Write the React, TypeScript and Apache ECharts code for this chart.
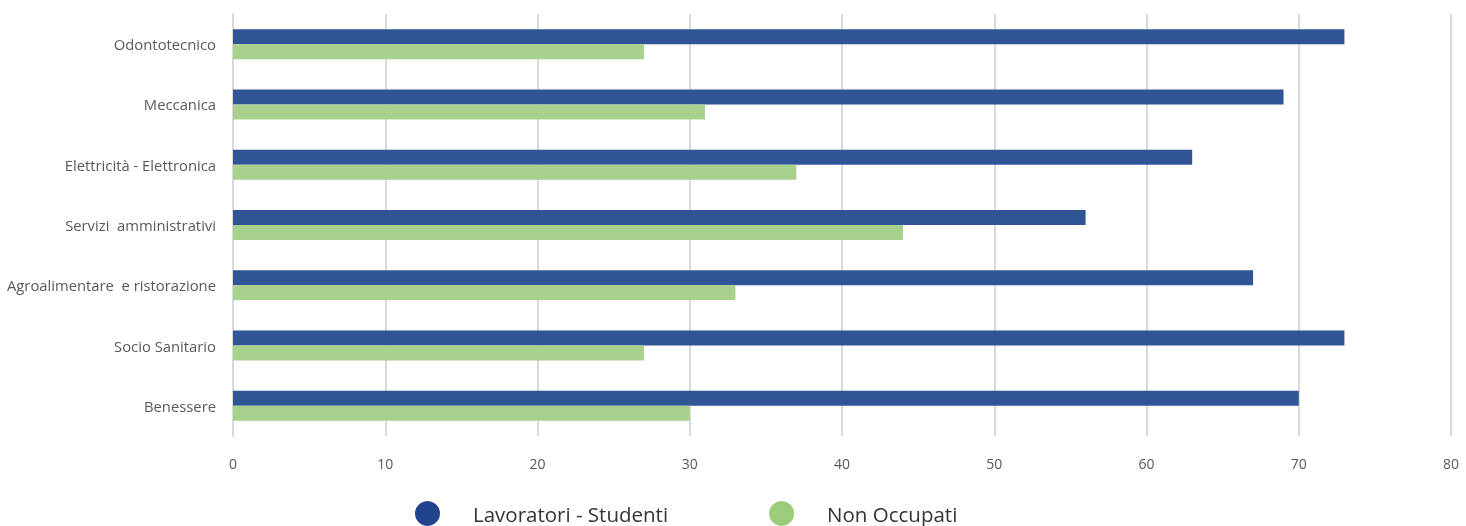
import React, { useEffect, useRef } from "react";
import * as echarts from "echarts";

const categories = [
  "Odontotecnico",
  "Meccanica",
  "Elettricità - Elettronica",
  "Servizi  amministrativi",
  "Agroalimentare  e ristorazione",
  "Socio Sanitario",
  "Benessere",
];
const lavoratoriStudenti = [73, 69, 63, 56, 67, 73, 70];
const nonOccupati = [27, 31, 37, 44, 33, 27, 30];
const seriesNames = ["Lavoratori - Studenti", "Non Occupati"];

export default function App() {
  const ref = useRef<HTMLDivElement>(null);
  useEffect(() => {
    if (!ref.current) return;
    const chart = echarts.init(ref.current, undefined, { renderer: "svg" });
    const font = "'Open Sans', 'Noto Sans', sans-serif";
    chart.setOption({
      animation: false,
      grid: { left: 233, right: 15, top: 14, bottom: 90, containLabel: false },
      legend: {
        left: 415,
        top: 501,
        padding: 0,
        itemWidth: 25,
        itemHeight: 25,
        itemGap: 101,
        icon: "circle",
        data: [
          { name: seriesNames[0], itemStyle: { color: "#1F448C" } },
          { name: seriesNames[1], itemStyle: { color: "#9BCB7B" } },
        ],
        textStyle: {
          fontFamily: font,
          fontSize: 20.5,
          lineHeight: 24,
          color: "#333333",
          padding: [0, 0, 0, 28],
        },
      },
      xAxis: {
        type: "value",
        min: 0,
        max: 80,
        interval: 10,
        axisLine: { show: false },
        axisTick: { show: false },
        splitLine: { show: true, lineStyle: { color: "#D9D9D9", width: 2 } },
        axisLabel: { color: "#595959", fontFamily: font, fontSize: 14, margin: 20 },
      },
      yAxis: {
        type: "category",
        inverse: true,
        data: categories,
        axisLine: { show: true, lineStyle: { color: "#D9D9D9", width: 2 } },
        axisTick: { show: false },
        axisLabel: { color: "#595959", fontFamily: font, fontSize: 14.8, margin: 17 },
      },
      series: [
        {
          name: seriesNames[0],
          type: "bar",
          data: lavoratoriStudenti,
          barWidth: 15,
          barGap: "0%",
          itemStyle: { color: "#2F5597" },
        },
        {
          name: seriesNames[1],
          type: "bar",
          data: nonOccupati,
          barWidth: 15,
          barGap: "0%",
          itemStyle: { color: "#A9D18E" },
        },
      ],
    });
    return () => chart.dispose();
  }, []);
  return (
    <div
      ref={ref}
      style={{ position: "fixed", left: 0, top: 0, width: 1466, height: 526 }}
    />
  );
}
